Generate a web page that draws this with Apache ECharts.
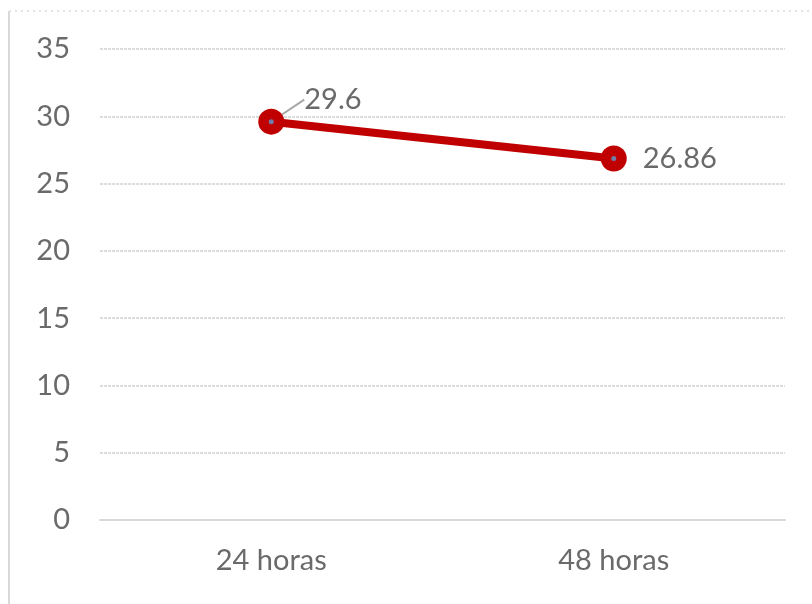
<!DOCTYPE html>
<html>
<head>
<meta charset="utf-8">
<script src="https://cdn.jsdelivr.net/npm/echarts@6/dist/echarts.min.js"></script>
<style>
  html, body { margin: 0; padding: 0; background: #ffffff; }
  #chart { width: 812px; height: 604px; }
</style>
</head>
<body>
<div id="chart"></div>
<script>
// Chart data
const categories = ['24 horas', '48 horas'];
const values = [29.6, 26.86];
const yTicks = { min: 0, max: 35, step: 5 };

const chart = echarts.init(document.getElementById('chart'));
const textGray = '#6a6a6a';
const fontFamily = 'Lato, "Open Sans", sans-serif';

// only the first point's label is lifted off the line and gets a leader line
const seriesData = values.map(function (v, i) {
  return i === 0 ? { value: v } : { value: v, labelLine: { show: false } };
});

chart.setOption({
  animation: false,
  backgroundColor: '#ffffff',
  graphic: [
    { type: 'line', shape: { x1: 9, y1: 11, x2: 9, y2: 604 }, style: { stroke: '#d9d9d9', lineWidth: 2 } },
    { type: 'line', shape: { x1: 9, y1: 11, x2: 812, y2: 11 }, style: { stroke: '#e3e3e3', lineWidth: 2, lineDash: [2, 4] } }
  ],
  grid: { left: 100, right: 27, top: 49, bottom: 84, containLabel: false },
  xAxis: {
    type: 'category',
    data: categories,
    boundaryGap: true,
    axisLine: { show: true, lineStyle: { color: '#d9d9d9', width: 2 } },
    axisTick: { show: false },
    axisLabel: { color: textGray, fontSize: 29, fontFamily: fontFamily, margin: 26 }
  },
  yAxis: {
    type: 'value',
    min: yTicks.min,
    max: yTicks.max,
    interval: yTicks.step,
    axisLine: { show: false },
    axisTick: { show: false },
    axisLabel: { color: textGray, fontSize: 29, fontFamily: fontFamily, margin: 30 },
    splitLine: { lineStyle: { color: '#dcdcdc', width: 2, type: [3, 1] } }
  },
  series: [
    {
      type: 'line',
      data: seriesData,
      symbol: 'circle',
      symbolSize: 26,
      lineStyle: { color: '#c00000', width: 8 },
      itemStyle: { color: '#c00000', borderWidth: 0 },
      label: {
        show: true,
        position: 'right',
        distance: 16,
        color: textGray,
        fontSize: 29,
        fontFamily: fontFamily
      },
      labelLayout: function (params) {
        if (params.dataIndex === 0) {
          return { dx: 4, dy: -22 };
        }
        return {};
      },
      labelLine: { show: true, lineStyle: { color: '#a6a6a6', width: 2 }, length2: 0, minTurnAngle: 180 },
      z: 3
    },
    {
      type: 'scatter',
      data: values,
      symbol: 'circle',
      symbolSize: 5,
      itemStyle: { color: '#5b9bd5' },
      silent: true,
      z: 4
    }
  ]
});
</script>
</body>
</html>
